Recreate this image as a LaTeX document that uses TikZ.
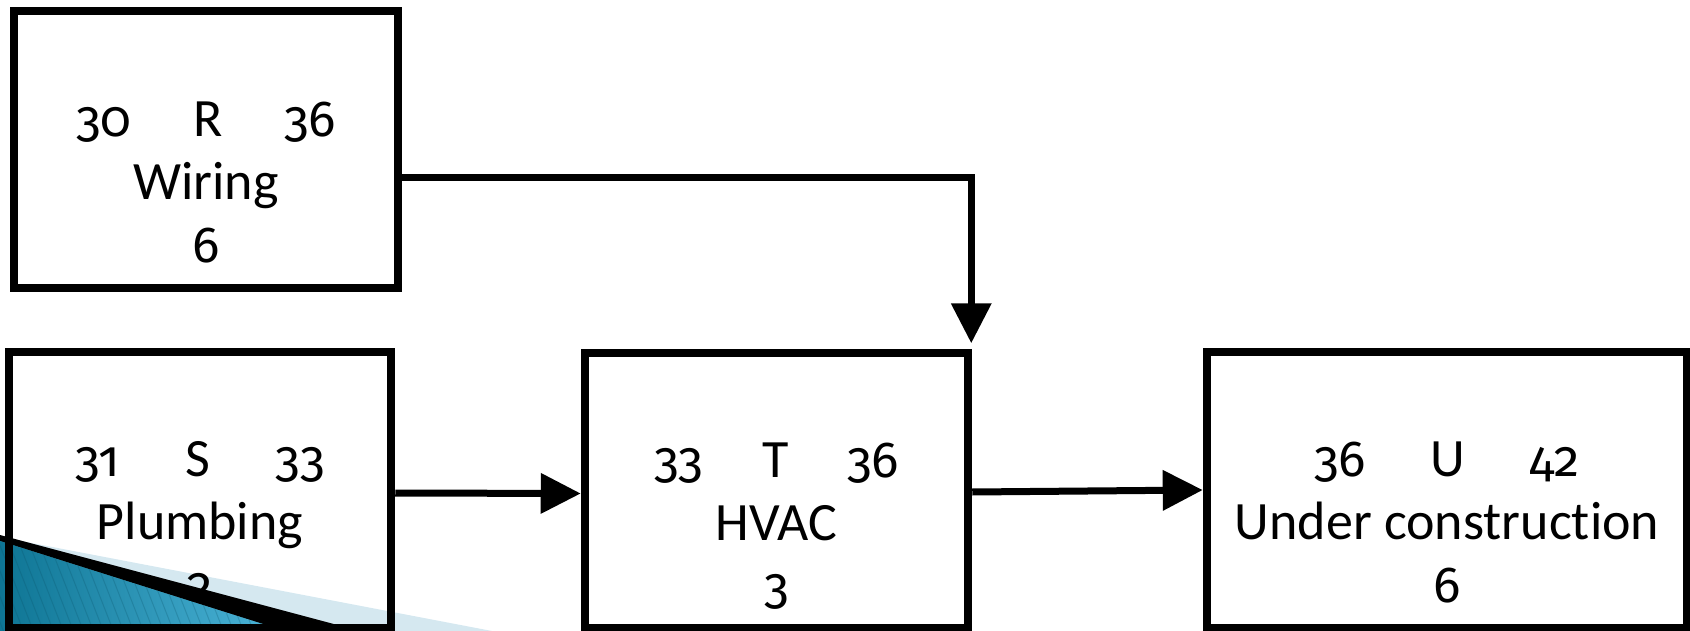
\documentclass[tikz,border=0pt]{standalone}
\usepackage{fontspec}
\setmainfont[Ligatures=CommonOff]{Carlito}
\newfontfamily\oldnum[Numbers=OldStyle,Scale=0.94]{Fira Sans}
\usepackage{tikz}
\usetikzlibrary{arrows.meta,positioning,backgrounds}
\definecolor{DeepTeal}{HTML}{0E7594}
\definecolor{SkyTeal}{HTML}{4DB6DA}
\definecolor{PaleBand}{HTML}{D5E8F0}
\pgfdeclarelayer{deco}
\pgfdeclarelayer{front}
\pgfsetlayers{background,main,deco,front}
\newcommand{\toprow}[4]{\hbox to #1{{\oldnum #2}\hfil #3\hfil{\oldnum #4}}}

\begin{document}
\begin{tikzpicture}[x=1pt,y=-1pt,font=\fontsize{54}{63}\selectfont]
  \tikzstyle{task}=[draw,line width=8.5pt,inner sep=0pt,minimum height=276pt]
  \tikzstyle{info}=[align=center,anchor=base,inner sep=0pt,yshift=-112.5pt]
  \tikzstyle{link}=[line width=7pt,-{Triangle[length=40pt,width=39pt]}]
  \useasboundingbox (0,0) rectangle (1690,631);
  % activity boxes
  \begin{pgfonlayer}{front}
    \node[task,minimum width=384pt,minimum height=277pt] (wir) at (206,149.5) {};
    \node[task,minimum width=382pt] (plu) at (200,490) {};
    \node[task,minimum width=383pt,minimum height=275pt] (hvac) at (776.5,490.5) {};
    \node[task,minimum width=480pt] (uc) at (1447,490) {};
  \end{pgfonlayer}
  \node[info] (wirT) at (wir.center) {\toprow{260pt}{30}{R}{36}\\Wiring\\{\oldnum 6}};
  \node[info] (pluT) at (plu.center) {\toprow{250pt}{31}{S}{33}\\Plumbing\\{\oldnum 2}};
  \node[info] (hvacT) at (hvac.center) {\toprow{245pt}{33}{T}{36}\\HVAC\\{\oldnum 3}};
  \node[info] (ucT) at (uc.center) {\toprow{265pt}{36}{U}{42}\\Under construction\\{\oldnum 6}};
  % links
  \draw[link] ([yshift=-28.5pt]wir.east) -| ([xshift=-1pt,yshift=5.5pt]hvac.north east);
  \draw[link] ([yshift=-3pt]plu.east) -- ([yshift=-3pt]hvac.west);
  \draw[link] ([yshift=-1.5pt]hvac.east) -- (uc.west);
  % slide ornament
  \begin{scope}[on background layer]
    \fill[PaleBand] (0,537) -- (492,631) -- (0,631) -- cycle;
  \end{scope}
  \begin{pgfonlayer}{deco}
    \fill (0,535) -- (360,631) -- (285,631) -- (0,541) -- cycle;
    \fill[left color=DeepTeal,right color=SkyTeal] (0,541) -- (285,631) -- (0,631) -- cycle;
    \begin{scope}
      \clip (0,541) -- (285,631) -- (0,631) -- cycle;
      \foreach \i in {-60,-50,...,300}
        \draw[DeepTeal!70!black,opacity=0.25,line width=1pt] (\i,520) -- ++(45,115);
    \end{scope}
  \end{pgfonlayer}
\end{tikzpicture}
\end{document}
